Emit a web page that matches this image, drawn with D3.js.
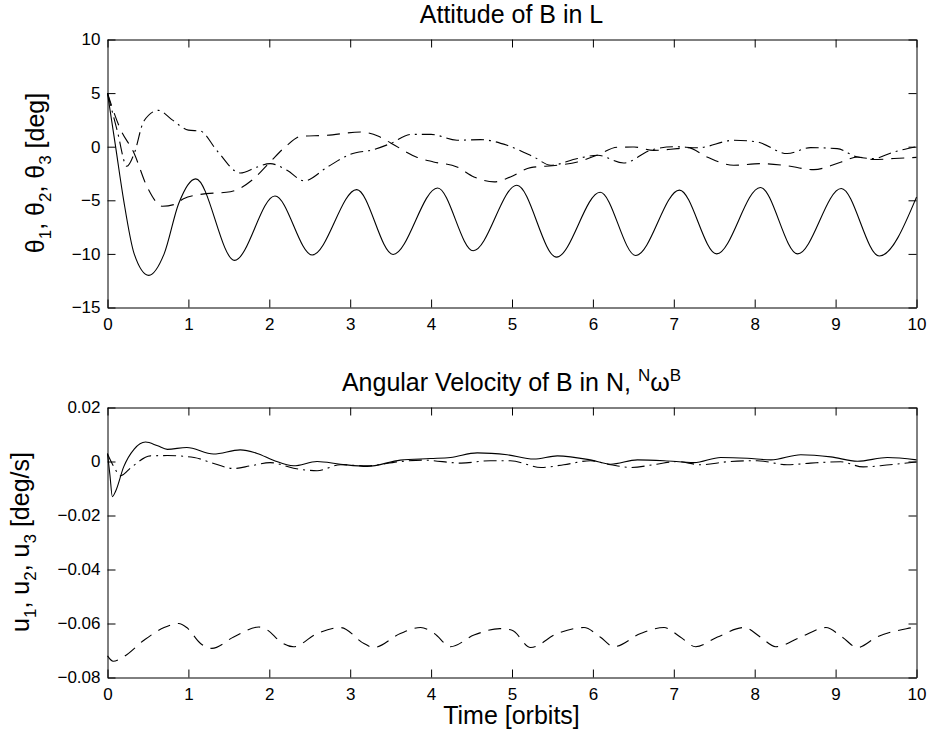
<!DOCTYPE html>
<html>
<head>
<meta charset="utf-8">
<script src="https://cdn.jsdelivr.net/npm/d3@7"></script>
<style>
  html, body { margin: 0; padding: 0; background: #fff; }
  svg { display: block; font-family: "Liberation Sans", Arial, Helvetica, sans-serif; }
</style>
</head>
<body>
<div id="chart"></div>
<script>
// time in orbits
const theta1 = [[0,5],[0.1,0],[0.2,-5],[0.33,-10],[0.51,-12.0],[0.70,-10],[0.88,-5.3],[1.09,-3.0],
  [1.57,-10.6],[2.07,-4.6],[2.53,-10.1],[3.08,-4.0],[3.53,-10.05],[4.08,-3.85],[4.52,-9.7],
  [5.06,-3.6],[5.55,-10.3],[6.09,-4.25],[6.53,-10.15],[7.07,-4.05],[7.53,-10.0],[8.07,-3.8],
  [8.53,-10.0],[9.07,-3.9],[9.54,-10.2],[10,-4.7]];

const theta2 = [[0,5],[0.15,1.8],[0.33,-0.64],[0.49,-3.75],[0.68,-5.55],[0.82,-5.4],[0.94,-4.85],
  [1.15,-4.45],[1.52,-4.2],[1.81,-2.97],[2.01,-1.42],[2.2,0],[2.39,0.97],[2.7,1.06],[3.13,1.37],
  [3.35,0.97],[3.5,0.35],[3.83,-1.0],[4.03,-1.42],[4.32,-1.89],[4.53,-2.82],[4.78,-3.28],[4.98,-2.82],
  [5.23,-1.95],[5.56,-1.73],[5.81,-1.42],[6.05,-0.8],[6.3,-0.05],[6.51,-0.03],[6.75,-0.34],
  [7.04,-0.18],[7.17,-0.09],[7.41,-0.96],[7.74,-1.73],[8.07,-1.58],[8.36,-1.73],[8.73,-2.14],
  [9.07,-1.42],[9.27,-0.96],[9.47,-1.2],[9.72,-1.1],[10,-1.0]];

const theta3 = [[0,5],[0.12,1.5],[0.24,-1.83],[0.33,-0.64],[0.45,2.4],[0.63,3.39],[0.8,2.5],
  [1.0,1.55],[1.15,1.45],[1.35,-0.34],[1.64,-2.45],[1.85,-1.89],[2.01,-1.58],[2.22,-2.2],
  [2.43,-3.19],[2.72,-1.89],[3.0,-0.71],[3.29,-0.27],[3.5,0.3],[3.75,1.15],[4.0,1.15],[4.32,0.6],
  [4.61,0.66],[4.94,0.13],[5.27,-0.96],[5.48,-1.73],[5.81,-1.1],[6.06,-0.8],[6.38,-1.52],
  [6.71,-0.34],[7.0,0],[7.3,-0.1],[7.74,0.6],[8.03,0.44],[8.4,-0.64],[8.69,-0.09],[9.02,-0.18],
  [9.27,-0.96],[9.47,-1.1],[9.72,-0.49],[10,0]];

const u1 = [[0,0.003],[0.03,-0.005],[0.06,-0.013],[0.1,-0.011],[0.2,-0.002],[0.33,0.0046],
  [0.47,0.0072],[0.62,0.0058],[0.74,0.0045],[0.98,0.0052],[1.31,0.0028],[1.64,0.0043],[1.85,0.003],
  [2.05,0.0005],[2.3,-0.0016],[2.59,0],[2.88,-0.001],[3.21,-0.0018],[3.62,0.0005],[3.99,0.0011],
  [4.24,0.0015],[4.57,0.0032],[4.94,0.0025],[5.27,0.0009],[5.56,0.0021],[5.97,0.0006],[6.22,-0.001],
  [6.55,0.0006],[6.88,0.0003],[7.25,-0.0004],[7.58,0.0015],[7.91,0.0012],[8.2,0.0006],[8.57,0.0025],
  [8.94,0.0017],[9.27,0.0001],[9.64,0.0015],[10,0.0006]];

const u2 = [[0,-0.072],[0.07,-0.074],[0.2,-0.0723],[0.45,-0.0662],[0.7,-0.0615],[0.88,-0.060],
  [0.98,-0.0615],[1.15,-0.0674],[1.29,-0.0692],[1.56,-0.065],[1.87,-0.0613],[1.98,-0.0625],
  [2.14,-0.0668],[2.3,-0.0686],[2.59,-0.0637],[2.88,-0.0615],[3.17,-0.0674],[3.29,-0.0689],
  [3.62,-0.0637],[3.87,-0.0615],[4.04,-0.0637],[4.24,-0.0686],[4.53,-0.0643],[4.85,-0.0619],
  [5.0,-0.0625],[5.23,-0.0689],[5.56,-0.0637],[5.89,-0.0615],[6.09,-0.065],[6.26,-0.0686],
  [6.59,-0.0637],[6.88,-0.0615],[7.08,-0.065],[7.27,-0.0686],[7.54,-0.065],[7.87,-0.0615],
  [8.07,-0.065],[8.26,-0.0686],[8.57,-0.065],[8.88,-0.0615],[9.08,-0.065],[9.27,-0.0689],
  [9.51,-0.065],[9.95,-0.0615],[10,-0.0612]];

const u3 = [[0,0.0028],[0.08,-0.002],[0.16,-0.0053],[0.3,-0.002],[0.53,0.0021],[0.74,0.0022],
  [1.07,0.0015],[1.28,-0.0004],[1.56,-0.0026],[1.77,-0.0016],[2.01,-0.0004],[2.3,-0.0025],
  [2.59,-0.0034],[2.88,-0.0012],[3.21,-0.0016],[3.62,0],[3.91,0.0005],[4.37,-0.0006],[4.73,0.0003],
  [4.98,0.0003],[5.36,-0.0022],[5.64,-0.0012],[5.97,0.0003],[6.22,-0.0012],[6.47,-0.0022],
  [6.79,-0.001],[7.04,0],[7.33,-0.0012],[7.66,-0.0001],[8.03,0.0003],[8.4,-0.0012],[8.69,-0.0006],
  [9.06,-0.0001],[9.34,-0.002],[9.67,-0.0012],[10,-0.0002]];

const xTicks = [0, 1, 2, 3, 4, 5, 6, 7, 8, 9, 10];
const thetaTicks = [-15, -10, -5, 0, 5, 10];
const rateTicks = [-0.08, -0.06, -0.04, -0.02, 0, 0.02];

const width = 930, height = 734;
const left = 107, right = 916;
const innerWidth = right - left;
const dashStyles = { solid: null, dashed: '13,8', dashdot: '13,5,2,5' };

const svg = d3.select('#chart').append('svg')
  .attr('width', width).attr('height', height);

function drawPanel(top, bottom, yDomain, yTicks, yFormat, series) {
  const h = bottom - top;
  const g = svg.append('g').attr('transform', `translate(${left + 0.5},${top + 0.5})`);
  const x = d3.scaleLinear().domain([0, 10]).range([0, innerWidth]);
  const y = d3.scaleLinear().domain(yDomain).range([h, 0]);

  const line = d3.line()
    .x((d) => x(d[0]))
    .y((d) => y(d[1]))
    .curve(d3.curveMonotoneX);

  series.forEach((s) => {
    g.append('path')
      .datum(s.data)
      .attr('fill', 'none')
      .attr('stroke', '#000')
      .attr('stroke-width', 1.1)
      .attr('stroke-dasharray', dashStyles[s.style])
      .attr('d', line);
  });

  // box with inward ticks on all four sides (matlab style)
  const bottomAxis = g.append('g').attr('transform', `translate(0,${h})`)
    .call(d3.axisBottom(x).tickValues(xTicks).tickFormat(d3.format('d'))
      .tickSizeInner(-8).tickSizeOuter(0).tickPadding(10));
  const topAxis = g.append('g')
    .call(d3.axisTop(x).tickValues(xTicks).tickSizeInner(-8).tickSizeOuter(0));
  const leftAxis = g.append('g')
    .call(d3.axisLeft(y).tickValues(yTicks).tickFormat(yFormat)
      .tickSizeInner(-8).tickSizeOuter(0).tickPadding(7));
  const rightAxis = g.append('g').attr('transform', `translate(${innerWidth},0)`)
    .call(d3.axisRight(y).tickValues(yTicks).tickSizeInner(-8).tickSizeOuter(0));

  // top and right only carry ticks
  topAxis.selectAll('text').remove();
  rightAxis.selectAll('text').remove();

  [bottomAxis, topAxis, leftAxis, rightAxis].forEach((a) => {
    a.select('.domain').attr('stroke', '#000').attr('stroke-width', 1);
    a.selectAll('.tick line').attr('stroke', '#000');
    a.selectAll('text').attr('fill', '#000').attr('font-size', 17)
      .attr('font-family', '"Liberation Sans", Arial, Helvetica, sans-serif');
  });
  return g;
}

drawPanel(39, 307, [-15, 10], thetaTicks, d3.format('d'), [
  { data: theta1, style: 'solid' },
  { data: theta2, style: 'dashed' },
  { data: theta3, style: 'dashdot' },
]);

drawPanel(407, 677, [-0.08, 0.02], rateTicks, (d) => (d === 0 ? '0' : d3.format('.2f')(d)), [
  { data: u1, style: 'solid' },
  { data: u2, style: 'dashed' },
  { data: u3, style: 'dashdot' },
]);

const cx = left + innerWidth / 2;

// titles
svg.append('text')
  .attr('x', cx).attr('y', 23)
  .attr('text-anchor', 'middle').attr('font-size', 25)
  .text('Attitude of B in L');

const t2 = svg.append('text')
  .attr('x', cx).attr('y', 391)
  .attr('text-anchor', 'middle').attr('font-size', 25);
t2.append('tspan').text('Angular Velocity of B in N, ');
t2.append('tspan').attr('font-size', 17).attr('dy', -10).text('N');
t2.append('tspan').attr('dy', 10).text('ω');
t2.append('tspan').attr('font-size', 17).attr('dy', -10).text('B');

// x label
svg.append('text')
  .attr('x', cx).attr('y', 724)
  .attr('text-anchor', 'middle').attr('font-size', 25)
  .text('Time [orbits]');

// y labels with subscripts
function yLabel(xPos, yPos, sym, unit) {
  const t = svg.append('text')
    .attr('transform', `translate(${xPos},${yPos}) rotate(-90)`)
    .attr('text-anchor', 'middle').attr('font-size', 25);
  [1, 2, 3].forEach((i) => {
    t.append('tspan').attr('dy', i === 1 ? 0 : -7).text(i === 1 ? sym : ', ' + sym);
    t.append('tspan').attr('font-size', 17).attr('dy', 7).text(i);
  });
  t.append('tspan').attr('dy', -7).text(' ' + unit);
}

yLabel(44, 173, 'θ', '[deg]');
yLabel(29, 542, 'u', '[deg/s]');
</script>
</body>
</html>
